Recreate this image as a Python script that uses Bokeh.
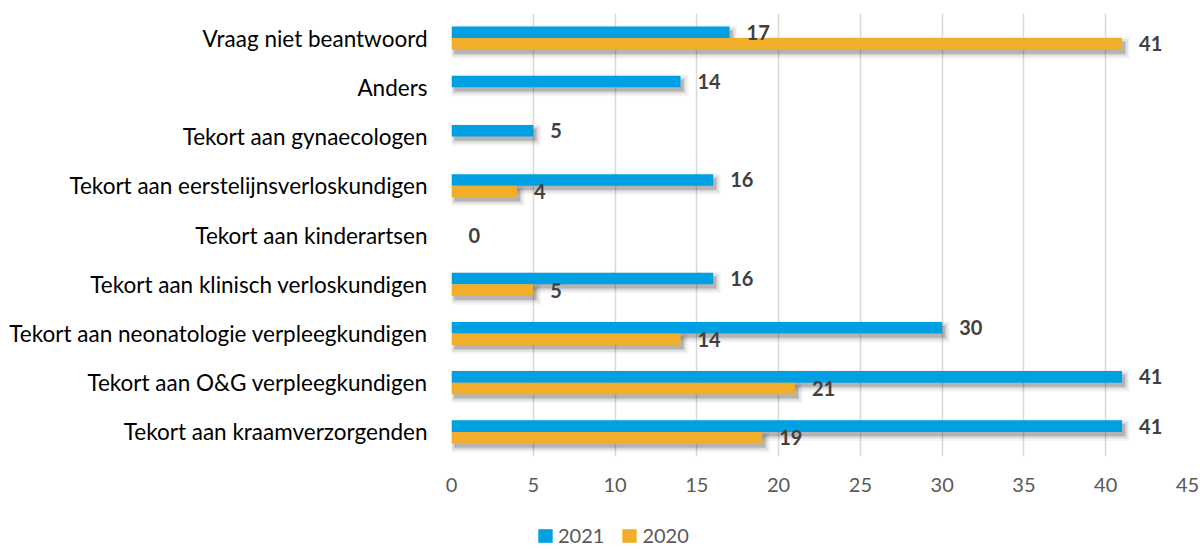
from bokeh.plotting import figure
from bokeh.models import Range1d, FixedTicker, Legend, LegendItem
from bokeh.layouts import column
from bokeh.embed import file_html
from bokeh.resources import INLINE
from bokeh.core.properties import value

# ---- data (bottom to top) ----
categories = [
    "Tekort aan kraamverzorgenden",
    "Tekort aan O&G verpleegkundigen",
    "Tekort aan neonatologie verpleegkundigen",
    "Tekort aan klinisch verloskundigen",
    "Tekort aan kinderartsen",
    "Tekort aan eerstelijnsverloskundigen",
    "Tekort aan gynaecologen",
    "Anders",
    "Vraag niet beantwoord",
]
values_2021 = [41, 41, 30, 16, 0, 16, 5, 14, 17]
values_2020 = [19, 21, 14, 5, None, 4, None, None, 41]
x_ticks = [0, 5, 10, 15, 20, 25, 30, 35, 40, 45]
series_names = ["2021", "2020"]

BLUE = "#00A0E3"
ORANGE = "#F2AE2B"
FONT = "Lato"

W = 1200
H1, H2 = 510, 39
LEFT, RIGHT, TOP, BOTTOM = 451, 13, 13, 54
frame_w = W - LEFT - RIGHT
frame_h = H1 - TOP - BOTTOM
XMAX = 45
NCAT = len(categories)
px_x = XMAX / frame_w          # data units per pixel (x)
px_y = NCAT / frame_h          # data units per pixel (y)

BAR_H = 0.235
OFF = BAR_H / 2

p = figure(width=W, height=H1, output_backend="svg", toolbar_location=None,
           x_range=Range1d(0, XMAX), y_range=Range1d(-0.5, NCAT - 0.5),
           min_border_left=LEFT, min_border_right=RIGHT,
           min_border_top=TOP, min_border_bottom=BOTTOM)
p.outline_line_color = None
p.background_fill_color = "white"
p.border_fill_color = "white"

idx = list(range(NCAT))
y21 = [i + OFF for i in idx]
y20 = [i - OFF for i in idx]
i20 = [i for i in idx if values_2020[i] is not None]
v20 = [values_2020[i] for i in i20]
yy20 = [y20[i] for i in i20]

# ---- shadows (layered to imitate blur) ----
sh_dx, sh_dy = 3 * px_x, 4 * px_y
all_vals = values_2021 + v20
all_y = y21 + yy20
keep = [k for k in range(len(all_vals)) if all_vals[k] > 0]
for grow, alpha in [(5, 0.04), (3, 0.07), (1, 0.10), (0, 0.11)]:
    gx, gy = grow * px_x, grow * px_y
    p.hbar(y=[all_y[k] - sh_dy for k in keep], left=sh_dx - gx,
           right=[all_vals[k] + sh_dx + gx for k in keep],
           height=BAR_H + 2 * gy, fill_color="#000000", fill_alpha=alpha, line_color=None)

r21 = p.hbar(y=y21, left=0, right=values_2021, height=BAR_H, fill_color=BLUE, line_color=None)
r20 = p.hbar(y=yy20, left=0, right=v20, height=BAR_H, fill_color=ORANGE, line_color=None)

# ---- data labels ----
lab_y21 = [y21[i] if not (values_2021[i] == 0 and values_2020[i] is None) else i for i in idx]
p.text(x=values_2021, y=lab_y21, text=[str(v) for v in values_2021], x_offset=17, y_offset=0,
       text_font=value(FONT), text_font_style="bold", text_font_size="20px",
       text_color="#404040", text_baseline="middle", text_align="left")
p.text(x=v20, y=yy20, text=[str(v) for v in v20], x_offset=17, y_offset=0,
       text_font=value(FONT), text_font_style="bold", text_font_size="20px",
       text_color="#404040", text_baseline="middle", text_align="left")

# ---- axes ----
p.xaxis.ticker = FixedTicker(ticks=x_ticks)
p.xaxis.axis_line_color = None
p.xaxis.major_tick_line_color = None
p.xaxis.minor_tick_line_color = None
p.xaxis.major_label_standoff = 15
p.xaxis.major_label_text_font = FONT
p.xaxis.major_label_text_font_size = "20px"
p.xaxis.major_label_text_color = "#595959"

p.yaxis.ticker = FixedTicker(ticks=idx)
p.yaxis.major_label_overrides = {i: c for i, c in enumerate(categories)}
p.yaxis.axis_line_color = None
p.yaxis.major_tick_line_color = None
p.yaxis.minor_tick_line_color = None
p.yaxis.major_label_standoff = 18
p.yaxis.major_label_text_font = FONT
p.yaxis.major_label_text_font_size = "22.5px"
p.yaxis.major_label_text_color = "#000000"

p.xgrid.grid_line_color = "#d9d9d9"
p.xgrid.grid_line_width = 1.5
p.ygrid.grid_line_color = None

# ---- legend strip ----
lg = figure(width=W, height=H2, output_backend="svg", toolbar_location=None,
            x_range=Range1d(0, 1), y_range=Range1d(0, 1),
            min_border_left=0, min_border_right=0, min_border_top=0, min_border_bottom=0)
lg.outline_line_color = None
lg.axis.visible = False
lg.grid.visible = False
# legend swatches (kept outside the visible range; only the legend shows them)
lr21 = lg.hbar(y=[-5], left=[0], right=[1], height=0.1, fill_color=BLUE, line_color=None)
lr20 = lg.hbar(y=[-5], left=[0], right=[1], height=0.1, fill_color=ORANGE, line_color=None)
legend = Legend(items=[LegendItem(label=series_names[0], renderers=[lr21]),
                       LegendItem(label=series_names[1], renderers=[lr20])],
                orientation="horizontal", location=(85, 2),
                border_line_color=None, background_fill_alpha=0,
                glyph_width=18, glyph_height=17, label_standoff=4, spacing=16,
                label_text_font=FONT, label_text_font_size="20px",
                label_text_color="#595959", padding=1, margin=0)
lg.add_layout(legend, "center")

layout = column(p, lg, spacing=0)
open("out.html", "w").write(file_html(layout, INLINE))
